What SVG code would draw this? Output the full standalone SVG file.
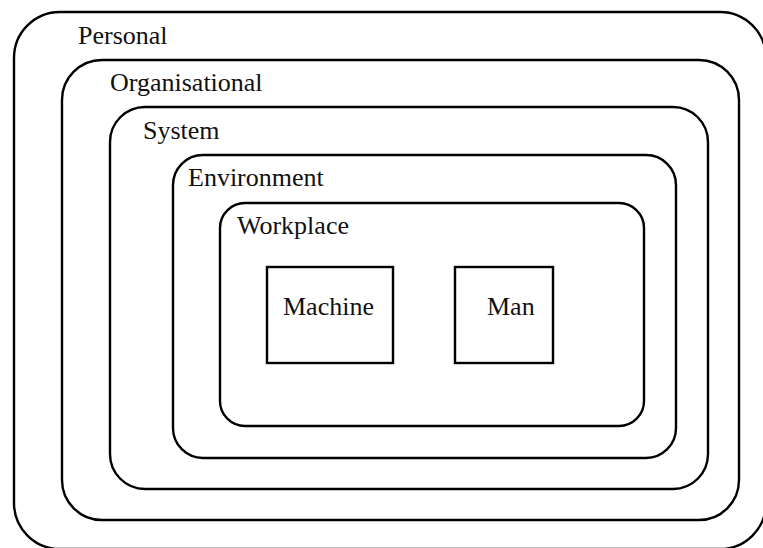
<svg xmlns="http://www.w3.org/2000/svg" width="763" height="548" viewBox="0 0 763 548">
<style>
.frame{fill:none;stroke:#000;stroke-width:2.4}
.lbl{font-family:"Liberation Serif","Times New Roman",serif;font-size:26px;fill:#111}
</style>
<rect width="763" height="548" fill="#fff"/>
<g id="personal">
<rect class="frame" x="14" y="12" width="752" height="537" rx="46" ry="46"/>
<text class="lbl" x="78" y="44">Personal</text>
</g>
<g id="organisational">
<rect class="frame" x="62" y="60" width="677" height="460" rx="40" ry="40"/>
<text class="lbl" x="110" y="91">Organisational</text>
</g>
<g id="system">
<rect class="frame" x="110" y="107" width="598" height="382" rx="35" ry="35"/>
<text class="lbl" x="143" y="139">System</text>
</g>
<g id="environment">
<rect class="frame" x="173" y="155" width="503" height="303" rx="30" ry="30"/>
<text class="lbl" x="188" y="186">Environment</text>
</g>
<g id="workplace">
<rect class="frame" x="220" y="203" width="424" height="223" rx="25" ry="25"/>
<text class="lbl" x="237" y="234">Workplace</text>
</g>
<g id="machine">
<rect class="frame" x="267" y="267" width="126" height="96"/>
<text class="lbl" x="283" y="315">Machine</text>
</g>
<g id="man">
<rect class="frame" x="455" y="267" width="98" height="96"/>
<text class="lbl" x="487" y="315">Man</text>
</g>
<g id="connectors"/>
</svg>
